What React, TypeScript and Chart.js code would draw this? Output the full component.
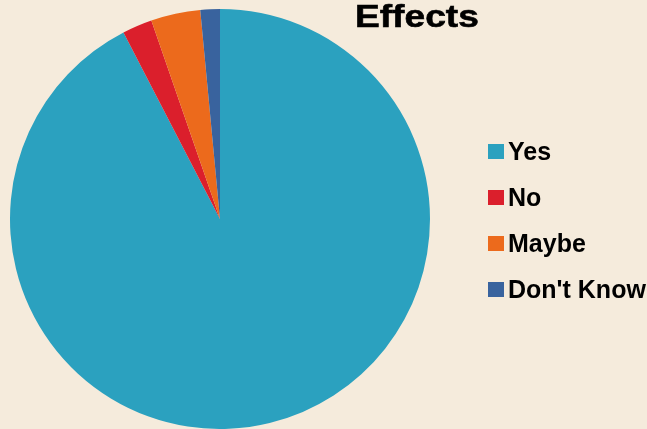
import React, { useEffect, useRef } from "react";
import { Chart, registerables } from "chart.js";

Chart.register(...registerables);

const categories = ["Yes", "No", "Maybe", "Don't Know"];
const values = [92.4, 2.3, 3.8, 1.5];
const colors = ["#2BA1BF", "#DB1F2C", "#EC6A1C", "#39639E"];
const titleText = "Effects";

export default function App() {
  const ref = useRef<HTMLCanvasElement | null>(null);

  useEffect(() => {
    document.body.style.margin = "0";
    const chart = new Chart(ref.current!, {
      type: "pie",
      data: {
        labels: categories,
        datasets: [
          {
            data: values,
            backgroundColor: colors,
            borderWidth: 0,
          },
        ],
      },
      options: {
        animation: false,
        responsive: false,
        layout: { padding: { left: 10, top: 9, right: 217, bottom: 0 } },
        plugins: {
          legend: { display: false },
          title: { display: false },
          tooltip: { enabled: false },
        },
      },
    });
    return () => chart.destroy();
  }, []);

  return (
    <div
      style={{
        position: "relative",
        width: 647,
        height: 429,
        background: "#F5EBDC",
        overflow: "hidden",
        fontFamily: "'Liberation Sans', Arial, sans-serif",
      }}
    >
      <canvas ref={ref} width={647} height={429} style={{ position: "absolute", left: 0, top: 0 }} />
      <div
        style={{
          position: "absolute",
          left: 355,
          top: -2,
          fontSize: 32,
          fontWeight: "bold",
          color: "#000",
          transform: "scaleX(1.16)",
          transformOrigin: "left top",
          lineHeight: "36px",
          whiteSpace: "nowrap",
          WebkitTextStroke: "0.6px #000",
        }}
      >
        {titleText}
      </div>
      <div style={{ position: "absolute", left: 488, top: 128 }}>
        {categories.map((c, i) => (
          <div
            key={c}
            style={{
              display: "flex",
              alignItems: "center",
              height: 46,
            }}
          >
            <div style={{ width: 16, height: 15, background: colors[i], marginRight: 4 }} />
            <span
              style={{
                fontSize: 25,
                fontWeight: "bold",
                color: "#000",
                whiteSpace: "nowrap",
                lineHeight: "30px",
              }}
            >
              {c}
            </span>
          </div>
        ))}
      </div>
    </div>
  );
}
